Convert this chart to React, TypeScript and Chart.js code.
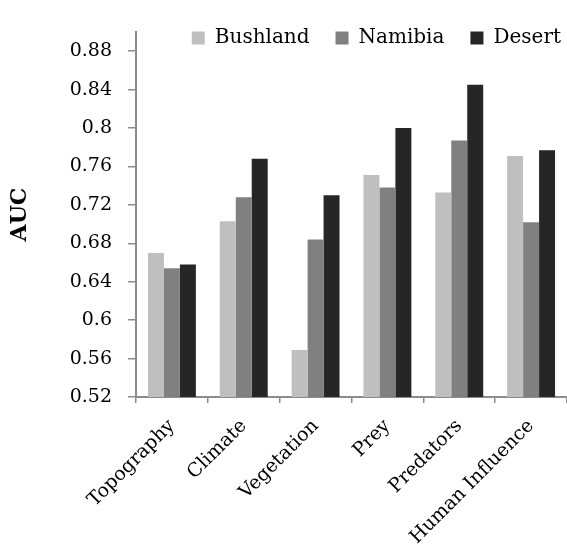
import React, { useEffect, useRef } from 'react';
import { Chart, registerables } from 'chart.js';

Chart.register(...registerables);

const categories = ['Topography', 'Climate', 'Vegetation', 'Prey', 'Predators', 'Human Influence'];
const seriesNames = ['Bushland', 'Namibia', 'Desert'];
const bushland = [0.670, 0.703, 0.569, 0.751, 0.733, 0.771];
const namibia = [0.654, 0.728, 0.684, 0.738, 0.787, 0.702];
const desert = [0.658, 0.768, 0.730, 0.800, 0.845, 0.777];
const yTicks = [0.52, 0.56, 0.6, 0.64, 0.68, 0.72, 0.76, 0.8, 0.84, 0.88];
const yMin = 0.52;
const yMax = 0.9;
const yTitle = 'AUC';

const FONT = 'DejaVu Serif';
const AXIS = '#8c8c8c';

const legendShift = {
  id: 'legendShift',
  afterLayout(chart: any) {
    const l = chart.legend;
    if (!l) return;
    const dx = 20;
    const dy = -26;
    l.left += dx;
    l.right += dx;
    l.top -= dy;
    l.bottom -= dy;
  },
};

export default function App() {
  const ref = useRef<HTMLCanvasElement | null>(null);
  useEffect(() => {
    document.body.style.margin = '0';
    if (!ref.current) return;
    const chart = new Chart(ref.current, {
      type: 'bar',
      data: {
        labels: categories,
        datasets: [
          { label: seriesNames[0], data: bushland, backgroundColor: '#bfbfbf', borderWidth: 0 },
          { label: seriesNames[1], data: namibia, backgroundColor: '#808080', borderWidth: 0 },
          { label: seriesNames[2], data: desert, backgroundColor: '#262626', borderWidth: 0 },
        ],
      },
      plugins: [legendShift],
      options: {
        responsive: false,
        animation: false,
        layout: { padding: { top: -24, right: 0, left: 0, bottom: 0 } },
        datasets: { bar: { categoryPercentage: 0.667, barPercentage: 1 } },
        plugins: {
          tooltip: { enabled: false },
          legend: {
            position: 'top',
            align: 'end',
            labels: {
              boxWidth: 13,
              boxHeight: 13,
              padding: 26,
              color: '#000',
              font: { family: FONT, size: 20 },
            },
          },
        },
        scales: {
          x: {
            grid: { display: true, drawOnChartArea: false, tickLength: 6, color: AXIS, lineWidth: 1.5 },
            border: { display: true, color: AXIS, width: 2 },
            ticks: {
              color: '#000',
              font: { family: FONT, size: 19 },
              minRotation: 45,
              maxRotation: 45,
              padding: 12,
              autoSkip: false,
            },
            afterFit: (s: any) => { s.height = 162; },
          },
          y: {
            min: yMin,
            max: yMax,
            grid: { display: true, drawOnChartArea: false, tickLength: 8, color: AXIS, lineWidth: 1.5 },
            border: { display: true, color: AXIS, width: 2 },
            afterBuildTicks: (s: any) => { s.ticks = yTicks.map((v) => ({ value: v })); },
            ticks: {
              color: '#000',
              font: { family: FONT, size: 19 },
              padding: 16,
              callback: (v: any) => String(Number(Number(v).toFixed(2))),
            },
            title: {
              display: true,
              text: yTitle,
              color: '#000',
              font: { family: FONT, size: 22, weight: 'bold' },
              padding: { top: 7, bottom: 0 },
            },
            afterFit: (s: any) => { s.width = 136; },
          },
        },
      },
    });
    return () => chart.destroy();
  }, []);
  return (
    <div style={{ width: 567, height: 559 }}>
      <canvas ref={ref} width={567} height={559} />
    </div>
  );
}
